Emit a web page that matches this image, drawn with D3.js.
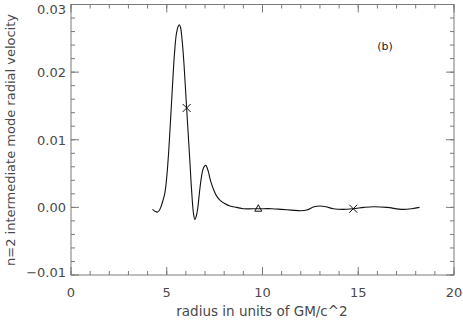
<!DOCTYPE html>
<html>
<head>
<meta charset="utf-8">
<script src="https://cdn.jsdelivr.net/npm/d3@7"></script>
<style>
  body { margin: 0; background: #fff; }
  text { font-family: "DejaVu Sans", sans-serif; fill: #4a4a4a; }
</style>
</head>
<body>
<div id="chart"></div>
<script>
// curve
var radius = [4.25, 4.4, 4.5, 4.6, 4.7, 4.8, 4.9, 5.0, 5.1, 5.2, 5.3, 5.4, 5.5, 5.6, 5.66,
  5.72, 5.8, 5.9, 6.0, 6.1, 6.2, 6.3, 6.4, 6.47, 6.55, 6.62, 6.7, 6.8, 6.9, 7.0, 7.05,
  7.15, 7.3, 7.45, 7.6, 7.8, 8.0, 8.3, 8.65, 9.0, 9.78, 10.5, 11.0, 11.5, 12.0, 12.3,
  12.7, 13.0, 13.3, 13.7, 14.2, 14.74, 15.3, 15.8, 16.5, 17.3, 17.8, 18.2];
var velocity = [-0.0003, -0.0006, -0.0007, -0.0005, 0.0001, 0.0010, 0.0021, 0.0045, 0.0082,
  0.0130, 0.0180, 0.0226, 0.0256, 0.0268, 0.0270, 0.0266, 0.0248, 0.0212, 0.0165, 0.0118,
  0.0072, 0.0024, -0.0010, -0.0018, -0.0012, -0.0001, 0.0020, 0.0043, 0.0057, 0.0062,
  0.0062, 0.0055, 0.0038, 0.0026, 0.0017, 0.0010, 0.0006, 0.0002, 0.0000, -0.0002,
  -0.0002, -0.0002, -0.0003, -0.0004, -0.0005, -0.0004, 0.0001, 0.0002, 0.0001, -0.0002,
  -0.0003, -0.0002, 0.0000, 0.0001, 0.0000, -0.0003, -0.0002, 0.0000];

var crossR = [6.04, 14.74];
var crossV = [0.0147, -0.0002];
var triR = [9.78];
var triV = [-0.0002];

var xTicks = [0, 5, 10, 15, 20];
var yTicks = [-0.01, 0.00, 0.01, 0.02, 0.03];

var W = 463, H = 321;
var mLeft = 71, mRight = 454, mTop = 4.5, mBottom = 275;

var x = d3.scaleLinear().domain([0, 20]).range([mLeft, mRight]);
var y = d3.scaleLinear().domain([-0.01, 0.03]).range([mBottom, mTop]);

var svg = d3.select("#chart").append("svg")
  .attr("width", W).attr("height", H);

var frameColor = "#7a7a7a";

// minor/major ticks, pointing inward on all four sides
var xMinor = d3.range(0, 20.01, 1);
var yMinor = d3.range(-0.01, 0.0301, 0.002);

function addXTicks(vals, len) {
  vals.forEach(function(v) {
    var px = x(v);
    svg.append("line").attr("x1", px).attr("x2", px)
      .attr("y1", mBottom).attr("y2", mBottom - len).attr("stroke", frameColor);
    svg.append("line").attr("x1", px).attr("x2", px)
      .attr("y1", mTop).attr("y2", mTop + len).attr("stroke", frameColor);
  });
}
addXTicks(xMinor, 4);
addXTicks(xTicks, 8);

function addYTicks(vals, len) {
  vals.forEach(function(v) {
    var py = y(v);
    svg.append("line").attr("x1", mLeft).attr("x2", mLeft + len)
      .attr("y1", py).attr("y2", py).attr("stroke", frameColor);
    svg.append("line").attr("x1", mRight).attr("x2", mRight - len)
      .attr("y1", py).attr("y2", py).attr("stroke", frameColor);
  });
}
addYTicks(yMinor, 4);
addYTicks(yTicks, 8);

svg.append("rect")
  .attr("x", mLeft).attr("y", mTop)
  .attr("width", mRight - mLeft).attr("height", mBottom - mTop)
  .attr("fill", "none").attr("stroke", frameColor);

// tick labels
svg.selectAll(".xl").data(xTicks).enter().append("text")
  .attr("x", function(d) { return x(d); })
  .attr("y", 297)
  .attr("text-anchor", "middle")
  .attr("font-size", 13)
  .text(function(d) { return d; });

// labels kept inside the window at the ends, as in the original
svg.selectAll(".yl").data(yTicks).enter().append("text")
  .attr("x", 66)
  .attr("y", function(d) { return Math.min(Math.max(y(d), 8.5), 272) + 5; })
  .attr("text-anchor", "end")
  .attr("font-size", 13)
  .text(function(d) { return d < 0 ? "\u2212" + d3.format(".2f")(-d) : d3.format(".2f")(d); });

svg.append("text")
  .attr("x", 262).attr("y", 316)
  .attr("text-anchor", "middle").attr("font-size", 13.5)
  .text("radius in units of GM/c^2");

svg.append("text")
  .attr("transform", "translate(15,140) rotate(-90)")
  .attr("text-anchor", "middle").attr("font-size", 13)
  .text("n=2 intermediate mode radial velocity");

svg.append("text")
  .attr("x", 385).attr("y", 50)
  .attr("text-anchor", "middle").attr("font-size", 11)
  .style("fill", "#222")
  .text("(b)");

// the curve
var pts = radius.map(function(r, i) { return [r, velocity[i]]; });
var line = d3.line()
  .x(function(d) { return x(d[0]); })
  .y(function(d) { return y(d[1]); })
  .curve(d3.curveCatmullRom);

svg.append("path").datum(pts)
  .attr("d", line)
  .attr("fill", "none").attr("stroke", "#111").attr("stroke-width", 1.1);

// markers
crossR.forEach(function(r, i) {
  var cx = x(r), cy = y(crossV[i]), s = 4;
  svg.append("path")
    .attr("d", "M" + (cx - s) + "," + (cy - s) + "L" + (cx + s) + "," + (cy + s) +
      "M" + (cx - s) + "," + (cy + s) + "L" + (cx + s) + "," + (cy - s))
    .attr("stroke", "#111").attr("stroke-width", 1);
});

triR.forEach(function(r, i) {
  var cx = x(r), cy = y(triV[i]);
  svg.append("path")
    .attr("d", "M" + (cx - 3.5) + "," + (cy + 2.5) + "L" + (cx + 3.5) + "," + (cy + 2.5) +
      "L" + cx + "," + (cy - 4) + "Z")
    .attr("fill", "none").attr("stroke", "#111").attr("stroke-width", 1);
});
</script>
</body>
</html>
